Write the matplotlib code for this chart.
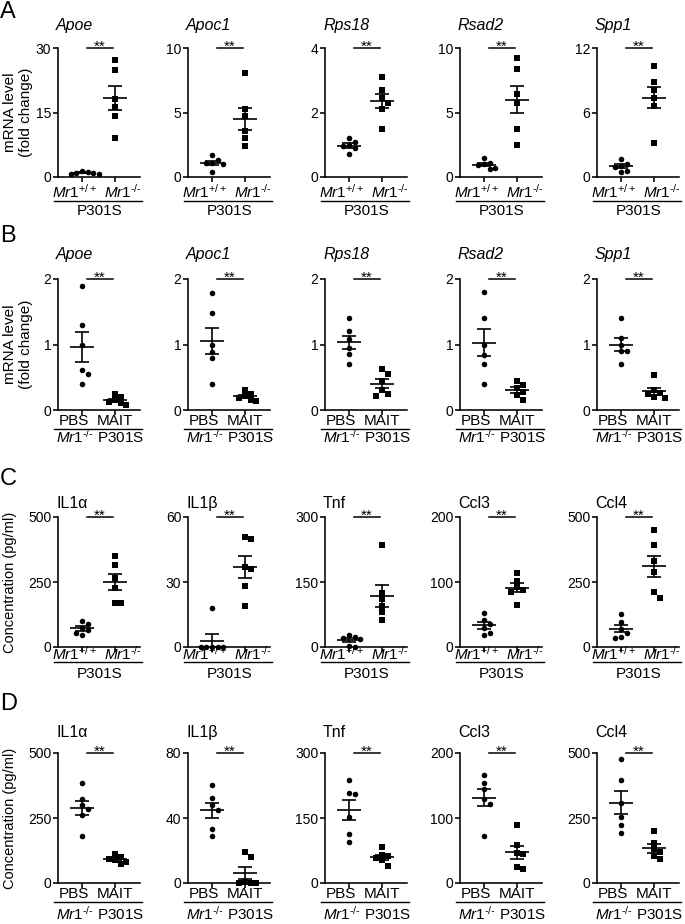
import numpy as np
import matplotlib
matplotlib.use("Agg")
import matplotlib.pyplot as plt
from matplotlib.lines import Line2D

plt.rcParams["font.family"] = ["Liberation Sans", "DejaVu Sans"]
plt.rcParams["mathtext.fontset"] = "custom"
plt.rcParams["mathtext.rm"] = "Liberation Sans"
plt.rcParams["mathtext.it"] = "Liberation Sans:italic"
plt.rcParams["mathtext.bf"] = "Liberation Sans:bold"

# ---------------- data ----------------
# A: mRNA fold change, Mr1+/+ vs Mr1-/- (P301S)
genes = ["Apoe", "Apoc1", "Rps18", "Rsad2", "Spp1"]
a_ymax = [30, 10, 4, 10, 12]
a_wt = [
    [1.3, 1.1, 1.0, 0.9, 0.8, 0.7],
    [1.7, 1.35, 1.1, 1.05, 1.0, 0.4],
    [1.2, 1.1, 1.0, 0.95, 0.9, 0.7],
    [1.5, 1.1, 1.0, 0.9, 0.7, 0.6],
    [1.7, 1.25, 1.0, 0.9, 0.55, 0.5],
]
a_ko = [
    [27.1, 25.0, 18.1, 16.3, 14.3, 9.1],
    [8.1, 5.3, 4.7, 3.6, 3.0, 2.4],
    [3.1, 2.7, 2.45, 2.3, 2.1, 1.5],
    [9.2, 8.4, 6.4, 5.7, 3.75, 2.5],
    [10.3, 8.8, 8.1, 7.35, 6.6, 3.2],
]

# B: mRNA fold change, PBS vs MAIT (Mr1-/- P301S)
b_ymax = [2, 2, 2, 2, 2]
b_pbs = [
    [1.9, 1.3, 0.99, 0.61, 0.55, 0.40],
    [1.78, 1.48, 0.99, 0.89, 0.79, 0.39],
    [1.4, 1.2, 1.09, 0.95, 0.85, 0.7],
    [1.8, 1.4, 1.0, 0.84, 0.7, 0.4],
    [1.4, 1.1, 1.0, 0.9, 0.9, 0.7],
]
b_mait = [
    [0.24, 0.2, 0.15, 0.12, 0.1, 0.08],
    [0.31, 0.25, 0.21, 0.19, 0.15, 0.13],
    [0.62, 0.55, 0.45, 0.3, 0.25, 0.22],
    [0.44, 0.38, 0.33, 0.28, 0.23, 0.16],
    [0.53, 0.3, 0.26, 0.25, 0.2, 0.18],
]

# C: cytokines (pg/ml), Mr1+/+ vs Mr1-/- (P301S)
cytokines = ["IL1α", "IL1β", "Tnf", "Ccl3", "Ccl4"]
c_ymax = [500, 60, 300, 200, 500]
c_wt = [
    [100, 90, 75, 65, 55, 45],
    [18, 0, 0, 0, 0, 0],
    [27, 23, 21, 18, 2, 1],
    [53, 42, 36, 30, 22, 19],
    [128, 98, 70, 55, 38, 35],
]
c_ko = [
    [349, 314, 265, 228, 171, 169],
    [51, 50, 37, 36, 28, 19],
    [236, 125, 110, 95, 80, 62],
    [114, 102, 92, 88, 85, 64],
    [450, 392, 330, 290, 210, 190],
]

# D: cytokines (pg/ml), PBS vs MAIT (Mr1-/- P301S)
d_ymax = [500, 80, 300, 200, 500]
d_pbs = [
    [383, 325, 300, 285, 262, 179],
    [60.5, 52.5, 48, 45, 33, 29],
    [238, 207, 205, 153, 114, 95],
    [166, 154, 145, 130, 122, 72],
    [478, 398, 309, 253, 223, 191],
]
d_mait = [
    [112, 100, 92, 88, 80, 75],
    [19, 16, 0.5, 0.3, 0, 0],
    [82, 65, 62, 58, 52, 40],
    [90, 58, 46, 44, 24, 21],
    [201, 153, 130, 120, 102, 92],
]

wt_ko_labels = [r"$\mathit{Mr1}^{\mathit{+/+}}$", r"$\mathit{Mr1}^{\text{-/-}}$"]
pbs_mait_labels = ["PBS", "MAIT"]
group_a_label = "P301S"
group_b_label = r"$\mathit{Mr1}^{\text{-/-}}$ P301S"

# ---------------- layout (pixels) ----------------
W, H = 685, 924
fig = plt.figure(figsize=(W / 100, H / 100), dpi=100)


def fx(px):
    return px / W


def fy(px):
    return 1 - px / H


COL_LEFT = [58, 188, 325, 460, 597]
AX_W = 82
UNIT = 33.0      # pixels between the two groups
X0 = 24.0        # first group from the y axis
ROW_TOP = [48, 279, 517, 753]
AX_H = [129, 131, 130, 130]
TITLE_BASE = [30, 259, 508, 737]
TICKLAB_BASE = [198, 425, 660, 898]
ULINE_Y = [201, 429, 662, 902]
GROUP_BASE = [215, 443, 678, 920]
LETTER_BASE = [18, 242, 485, 710]
# horizontal nudges of the two x labels (GraphPad spreads them apart)
SHIFT_MR1 = [-7, 8]
SHIFT_PBS = [-8, 0]


def swarm(vals, ymax, h_px, d=5.6):
    order = np.argsort(vals)[::-1]
    placed = []
    offs = np.zeros(len(vals))
    cands = [0.0]
    for n in range(1, 10):
        cands += [n * d, -n * d]
    for i in order:
        y = vals[i] / ymax * h_px
        for c in cands:
            if all((c - px) ** 2 + (y - py) ** 2 >= 0.9 * d * d for px, py in placed):
                break
        placed.append((c, y))
        offs[i] = c / UNIT
    return offs


def panel(r, c, title, italic, g0, g1, ymax, ticklabels, shifts, grouplabel):
    left, top, h = COL_LEFT[c], ROW_TOP[r], AX_H[r]
    ax = fig.add_axes([fx(left), fy(top + h), AX_W / W, h / H])
    ax.set_xlim(-X0 / UNIT, (AX_W - X0) / UNIT)
    ax.set_ylim(0, ymax)
    for s in ["top", "right"]:
        ax.spines[s].set_visible(False)
    for s in ["left", "bottom"]:
        ax.spines[s].set_linewidth(1.15)
    ax.set_yticks([0, ymax / 2, ymax])
    ax.set_yticklabels([f"{v:g}" for v in [0, ymax / 2, ymax]], fontsize=10)
    ax.set_xticks([0, 1])
    ax.set_xticklabels([])
    ax.tick_params(axis="both", direction="out", length=3.8, width=1.15, pad=1)

    for i, (vals, mk) in enumerate([(g0, "o"), (g1, "s")]):
        v = np.array(vals, float)
        xo = swarm(v, ymax, h)
        ax.plot(i + xo, v, ls="none", marker=mk, ms=4.0, mfc="black", mec="black",
                mew=0, clip_on=False, zorder=3)
        m = v.mean()
        sem = v.std(ddof=1) / np.sqrt(len(v))
        ax.hlines(m, i - 0.37, i + 0.37, color="black", lw=1.2, zorder=4)
        ax.hlines([m - sem, m + sem], i - 0.2, i + 0.2, color="black", lw=1.2, zorder=4)
        ax.vlines(i, m - sem, m + sem, color="black", lw=1.2, zorder=4)

    # significance bar
    ax.plot([0.15, 0.95], [ymax, ymax], color="black", lw=1.1, clip_on=False)
    ax.annotate("**", (0.55, ymax), xytext=(0, -2), textcoords="offset points",
                ha="center", va="baseline", fontsize=11)

    fig.text(fx(left - 2), fy(TITLE_BASE[r]), title, fontsize=11.5, ha="left",
             va="baseline", fontstyle="italic" if italic else "normal")
    for i, lab in enumerate(ticklabels):
        fig.text(fx(left + X0 + UNIT * i + shifts[i]), fy(TICKLAB_BASE[r]), lab,
                 fontsize=11, ha="center", va="baseline")
    fig.add_artist(Line2D([fx(left - 4), fx(left + AX_W + 2)],
                          [fy(ULINE_Y[r]), fy(ULINE_Y[r])], color="black", lw=1.0))
    fig.text(fx(left + AX_W / 2 + 1), fy(GROUP_BASE[r]), grouplabel, fontsize=11,
             ha="center", va="baseline")
    return ax


rows = [
    (genes, True, a_wt, a_ko, a_ymax, wt_ko_labels, SHIFT_MR1, group_a_label),
    (genes, True, b_pbs, b_mait, b_ymax, pbs_mait_labels, SHIFT_PBS, group_b_label),
    (cytokines, False, c_wt, c_ko, c_ymax, wt_ko_labels, SHIFT_MR1, group_a_label),
    (cytokines, False, d_pbs, d_mait, d_ymax, pbs_mait_labels, SHIFT_PBS, group_b_label),
]
for r, (names, italic, g0s, g1s, ymaxs, tl, sh, gl) in enumerate(rows):
    for c in range(5):
        panel(r, c, names[c], italic, g0s[c], g1s[c], ymaxs[c], tl, sh, gl)

# panel letters
for r, letter in enumerate("ABCD"):
    fig.text(fx(0), fy(LETTER_BASE[r]), letter, fontsize=17, ha="left", va="baseline")

# y axis labels
for r in [0, 1]:
    yc = ROW_TOP[r] + AX_H[r] / 2
    fig.text(fx(18), fy(yc), "mRNA level\n(fold change)", rotation=90, fontsize=11,
             ha="center", va="center", multialignment="center", linespacing=1.15)
for r in [2, 3]:
    yc = ROW_TOP[r] + AX_H[r] / 2
    fig.text(fx(10), fy(yc), "Concentration (pg/ml)", rotation=90, fontsize=10.5,
             ha="center", va="center")

fig.savefig("out.png", dpi=100)
